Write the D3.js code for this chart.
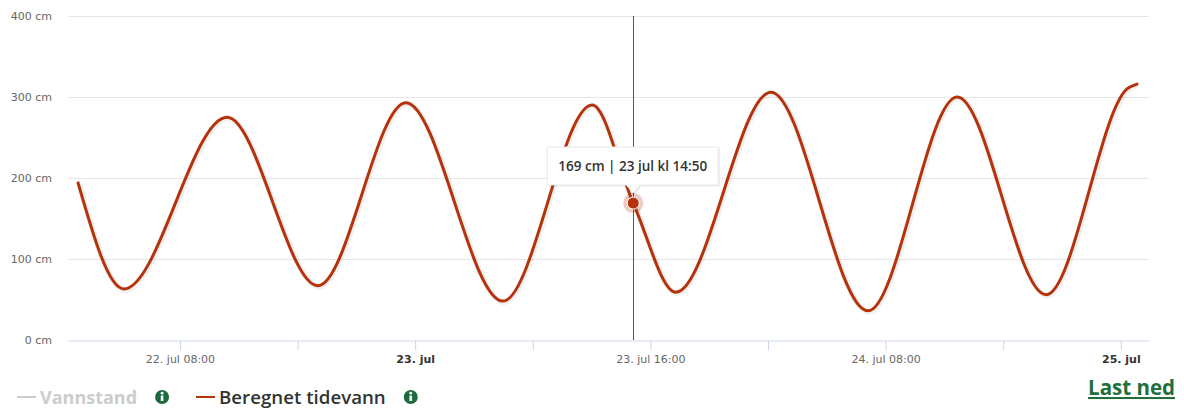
<!DOCTYPE html>
<html>
<head>
<meta charset="utf-8">
<script src="https://cdn.jsdelivr.net/npm/d3@7"></script>
<style>
  body { margin: 0; background: #fff; }
  #chart { position: relative; width: 1184px; height: 409px; }
</style>
</head>
<body>
<div id="chart"></div>
<script>
// Tide series (time, cm)
const tideTimes = [
    "2024-07-22T01:04", "2024-07-22T04:11", "2024-07-22T11:12", "2024-07-22T17:23",
    "2024-07-22T23:22", "2024-07-23T05:58", "2024-07-23T12:02", "2024-07-23T14:50",
    "2024-07-23T17:44", "2024-07-24T00:12", "2024-07-24T06:48", "2024-07-24T12:52",
    "2024-07-24T18:55", "2024-07-25T00:30", "2024-07-25T01:06"
];
const tideValues = [194, 63, 275, 67, 293, 48, 290, 169, 59, 306, 36, 300, 56, 311, 316];

// Axis ticks
const yTicks = [0, 100, 200, 300, 400];
const xTickTimes = [
    "2024-07-22T08:00", "2024-07-22T16:00", "2024-07-23T00:00", "2024-07-23T08:00",
    "2024-07-23T16:00", "2024-07-24T00:00", "2024-07-24T08:00", "2024-07-24T16:00",
    "2024-07-25T00:00"
];
const xTickLabels = ["22. jul 08:00", "", "23. jul", "", "23. jul 16:00", "", "24. jul 08:00", "", "25. jul"];

// Hovered point
const hoverTime = "2024-07-23T14:50";
const hoverValue = 169;
const hoverText = "169 cm | 23 jul kl 14:50";

const legendItems = ["Vannstand", "Beregnet tidevann"];

const parse = s => new Date(s + ":00Z");
const data = tideTimes.map((t, i) => ({ t: parse(t), v: tideValues[i] }));

const width = 1184, height = 409;
const lineColor = "#b5320a";
const axisFont = "'DejaVu Sans', Verdana, sans-serif";
const uiFont = "'Open Sans', sans-serif";

const x = d3.scaleUtc()
    .domain([parse("2024-07-22T00:23"), parse("2024-07-25T01:55")])
    .range([68, 1149]);
const y = d3.scaleLinear().domain([0, 400]).range([340, 16]);

const svg = d3.select("#chart").append("svg")
    .attr("width", width)
    .attr("height", height);

// Grid lines
svg.append("g")
    .selectAll("line")
    .data(yTicks.filter(d => d > 0))
    .join("line")
    .attr("x1", 68).attr("x2", 1149)
    .attr("y1", d => y(d) + 0.5).attr("y2", d => y(d) + 0.5)
    .attr("stroke", "#e6e6e6");

// Y labels
svg.append("g")
    .selectAll("text")
    .data(yTicks)
    .join("text")
    .attr("x", 52)
    .attr("y", d => y(d) + 4)
    .attr("text-anchor", "end")
    .attr("fill", "#666")
    .style("font-family", axisFont)
    .style("font-size", "11px")
    .text(d => d + " cm");

// X axis
const xAxis = svg.append("g")
    .attr("transform", `translate(0,${y(0) + 0.5})`)
    .call(d3.axisBottom(x)
        .tickValues(xTickTimes.map(parse))
        .tickSize(10)
        .tickSizeOuter(0)
        .tickFormat((d, i) => xTickLabels[i]));
xAxis.select(".domain").attr("stroke", "#ccd6eb");
xAxis.selectAll(".tick line").attr("stroke", "#ccd6eb");
xAxis.selectAll(".tick text")
    .attr("y", 15)
    .attr("fill", (d, i) => xTickLabels[i].indexOf(":") < 0 ? "#333" : "#666")
    .style("font-weight", (d, i) => xTickLabels[i].indexOf(":") < 0 ? "bold" : "normal")
    .style("font-size", "11px")
    .style("font-family", axisFont);

// Crosshair
svg.append("line")
    .attr("x1", Math.round(x(parse(hoverTime))) + 0.5)
    .attr("x2", Math.round(x(parse(hoverTime))) + 0.5)
    .attr("y1", 16).attr("y2", 340)
    .attr("stroke", "#555")
    .attr("stroke-width", 1);

// Tide line with soft shadow
const line = d3.line()
    .x(d => x(d.t))
    .y(d => y(d.v))
    .curve(d3.curveMonotoneX);

svg.append("path")
    .datum(data)
    .attr("fill", "none")
    .attr("stroke", "#000")
    .attr("stroke-opacity", 0.06)
    .attr("stroke-width", 6)
    .attr("transform", "translate(1,1)")
    .attr("d", line);

svg.append("path")
    .datum(data)
    .attr("fill", "none")
    .attr("stroke", lineColor)
    .attr("stroke-width", 3)
    .attr("stroke-linejoin", "round")
    .attr("stroke-linecap", "round")
    .attr("d", line);

// Hover marker
const hx = x(parse(hoverTime)), hy = y(hoverValue);
svg.append("circle").attr("cx", hx).attr("cy", hy).attr("r", 10)
    .attr("fill", lineColor).attr("fill-opacity", 0.25);
svg.append("circle").attr("cx", hx).attr("cy", hy).attr("r", 6)
    .attr("fill", lineColor).attr("stroke", "#fff").attr("stroke-width", 1);

// Tooltip
const tip = svg.append("g");
const tw = 171, th = 38, tx = hx - 86, ty = 147;
const tipPath = `M${tx},${ty} h${tw} v${th} H${hx + 7} L${hx},${ty + th + 8} L${hx - 7},${ty + th} H${tx} Z`;
tip.append("path").attr("d", tipPath)
    .attr("fill", "#000").attr("fill-opacity", 0.08)
    .attr("transform", "translate(1.5,1.5)");
tip.append("path").attr("d", tipPath)
    .attr("fill", "#fff").attr("stroke", "#e8e8e8").attr("stroke-width", 1);
tip.append("text")
    .attr("x", tx + tw / 2)
    .attr("y", ty + 24)
    .attr("text-anchor", "middle")
    .attr("fill", "#333")
    .style("font-size", "13.5px")
    .style("font-weight", "600")
    .style("font-family", uiFont)
    .text(hoverText);

// Legend
const legend = svg.append("g").style("font-family", uiFont);
const legendX = [17, 196];
const legendSize = ["18px", "18.7px"];
const legendColors = ["#cccccc", lineColor];
const legendText = ["#cccccc", "#333"];
legendItems.forEach((name, i) => {
    const g = legend.append("g").attr("transform", `translate(${legendX[i]},404)`);
    g.append("line").attr("x1", 0).attr("x2", 19).attr("y1", -7).attr("y2", -7)
        .attr("stroke", legendColors[i]).attr("stroke-width", 2);
    const t = g.append("text").attr("x", 23).attr("y", 0)
        .attr("fill", legendText[i])
        .style("font-size", legendSize[i])
        .style("font-weight", i === 0 ? "bold" : "600")
        .text(name);
    const w = t.node().getComputedTextLength();
    const ic = g.append("g").attr("transform", `translate(${23 + w + 25},-7)`);
    ic.append("circle").attr("r", 7).attr("fill", "#1c6b3c");
    ic.append("rect").attr("x", -1.3).attr("y", -1.5).attr("width", 2.6).attr("height", 5.5).attr("fill", "#fff");
    ic.append("circle").attr("cx", 0).attr("cy", -3.8).attr("r", 1.4).attr("fill", "#fff");
});

// Download link
svg.append("text")
    .attr("x", 1175)
    .attr("y", 395)
    .attr("text-anchor", "end")
    .attr("fill", "#1f6e3b")
    .style("font-family", uiFont)
    .style("font-size", "20.5px")
    .style("font-weight", "bold")
    .style("text-decoration", "underline")
    .text("Last ned");
</script>
</body>
</html>
